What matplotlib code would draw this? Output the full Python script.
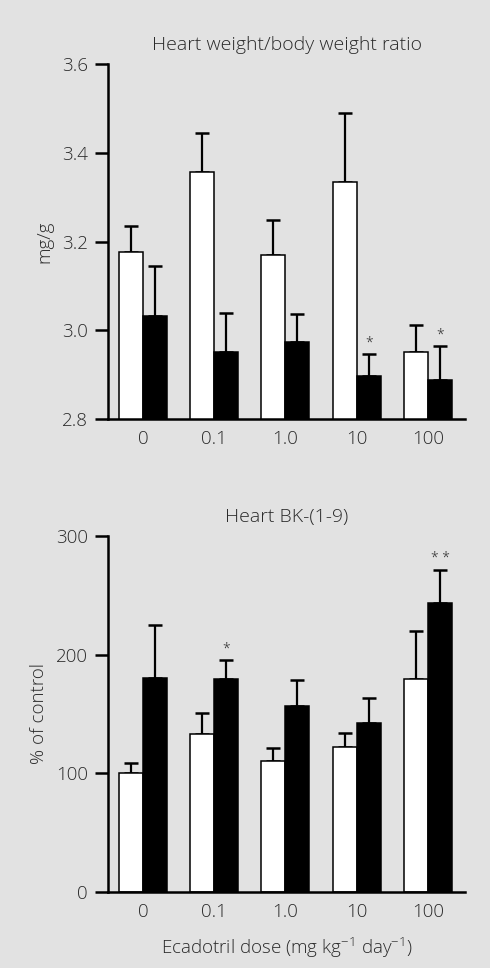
import numpy as np
import matplotlib
matplotlib.use("Agg")
import matplotlib.pyplot as plt

doses = ["0", "0.1", "1.0", "10", "100"]

# heart weight / body weight (mg/g)
hw_open = [3.177, 3.356, 3.170, 3.333, 2.950]
hw_open_err = [0.058, 0.088, 0.078, 0.157, 0.063]
hw_filled = [3.032, 2.950, 2.974, 2.898, 2.888]
hw_filled_err = [0.113, 0.089, 0.062, 0.048, 0.077]
hw_marks = ["", "", "", "*", "*"]

# heart BK-(1-9), % of control
bk_open = [100, 133.4, 109.9, 121.9, 179.2]
bk_open_err = [8.7, 17.4, 11.4, 11.8, 40.7]
bk_filled = [180.3, 179.2, 156.7, 142.7, 243.5]
bk_filled_err = [44.7, 15.8, 21.6, 20.5, 28.1]
bk_marks = ["", "*", "", "", "* *"]

BG = "#e2e2e2"
TXT = "#2a2a2a"
plt.rcParams["font.family"] = ["Open Sans", "DejaVu Sans"]
plt.rcParams["font.weight"] = "light"
plt.rcParams["axes.titleweight"] = "light"
plt.rcParams["axes.labelweight"] = "light"

fig = plt.figure(figsize=(4.9, 9.68), dpi=100, facecolor=BG)
ax1 = fig.add_axes([0.2204, 0.5671, 0.7286, 0.3668])
ax2 = fig.add_axes([0.2204, 0.0788, 0.7286, 0.3675])

x = np.arange(len(doses))
w = 0.337


def panel(ax, o, oe, f, fe, marks, ylim, yticks, yticklabels, ylabel, title):
    ax.set_facecolor(BG)
    ax.bar(x - w / 2, o, w, color="white", edgecolor="black", linewidth=1.1, zorder=2)
    ax.bar(x + w / 2, f, w, color="black", edgecolor="black", linewidth=1.1, zorder=2)
    ax.errorbar(x - w / 2, o, yerr=[np.zeros(len(o)), oe], fmt="none", ecolor="black",
                elinewidth=1.6, capsize=4.7, capthick=1.8, zorder=1)
    ax.errorbar(x + w / 2, f, yerr=[np.zeros(len(f)), fe], fmt="none", ecolor="black",
                elinewidth=1.6, capsize=4.7, capthick=1.8, zorder=1)
    for xi, v, e, m in zip(x, f, fe, marks):
        if m:
            ax.annotate(m, (xi + w / 2, v + e), xytext=(0, 2.5), textcoords="offset points",
                        ha="center", va="bottom", fontsize=10, color=TXT)
    ax.set_xlim(-0.49, 4.52)
    ax.set_ylim(*ylim)
    ax.set_yticks(yticks)
    ax.set_yticklabels(yticklabels)
    ax.set_xticks(x)
    ax.set_xticklabels(doses)
    for s in ["top", "right"]:
        ax.spines[s].set_visible(False)
    for s in ["left", "bottom"]:
        ax.spines[s].set_linewidth(1.8)
    ax.tick_params(axis="y", length=9.4, width=1.8, labelsize=13.5, pad=5, colors="black",
                   labelcolor=TXT)
    ax.tick_params(axis="x", length=0, labelsize=13.5, pad=8, labelcolor=TXT)
    ax.set_ylabel(ylabel, fontsize=13.5, color=TXT, labelpad=6)
    ax.set_title(title, fontsize=14, color=TXT, pad=10)


panel(ax1, hw_open, hw_open_err, hw_filled, hw_filled_err, hw_marks,
      (2.8, 3.6), [2.8, 3.0, 3.2, 3.4, 3.6], ["2.8", "3.0", "3.2", "3.4", "3.6"],
      "mg/g", "Heart weight/body weight ratio")
panel(ax2, bk_open, bk_open_err, bk_filled, bk_filled_err, bk_marks,
      (0, 300), [0, 100, 200, 300], ["0", "100", "200", "300"],
      "% of control", "Heart BK-(1-9)")
ax2.set_xlabel("Ecadotril dose (mg kg$^{\\mathregular{-1}}$ day$^{\\mathregular{-1}}$)",
               fontsize=13.5, color=TXT, labelpad=10)

fig.savefig("out.png", dpi=100, facecolor=BG)
